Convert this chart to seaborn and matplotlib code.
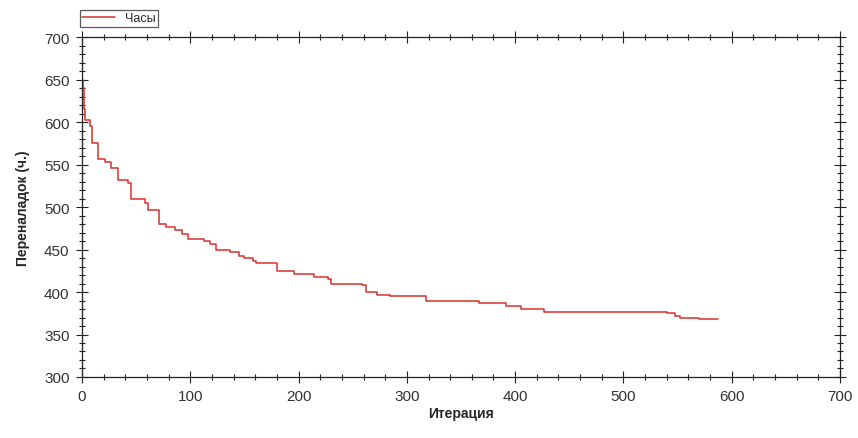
import pandas as pd
import matplotlib
matplotlib.use("Agg")
import matplotlib.pyplot as plt
from matplotlib.ticker import MultipleLocator
import seaborn as sns

# Step points: iteration where the value changes, new value
iterations = [0, 1, 2, 3, 7, 9, 15, 21, 27, 33, 42, 45, 58, 61, 71, 78, 86, 92,
              98, 113, 118, 124, 137, 145, 150, 158, 161, 180, 196, 214, 227, 230,
              259, 262, 272, 284, 318, 367, 392, 405, 427, 540, 548, 552, 570, 587]
hours = [650, 640, 615, 603, 595, 575, 557, 553, 546, 532, 528, 509, 505, 497,
         480, 477, 473, 468, 463, 460, 456, 449, 447, 442, 440, 437, 434, 425,
         421, 418, 415, 410, 408, 400, 397, 395, 390, 387, 383, 380, 377, 375,
         372, 369, 368, 368]

series_label = "Часы"
x_label = "Итерация"
y_label = "Переналадок (ч.)"

df = pd.DataFrame({"iter": iterations, "hours": hours})

sns.set_theme(style="ticks")
plt.rcParams["font.family"] = ["Liberation Sans", "DejaVu Sans"]

fig = plt.figure(figsize=(8.58, 4.39), dpi=100)
ax = fig.add_axes([0.0956, 0.139, 0.8834, 0.774])

sns.lineplot(data=df, x="iter", y="hours", ax=ax, color="#d8302c", linewidth=1.1,
             drawstyle="steps-post", estimator=None, label=series_label)

ax.set_xlim(0, 700)
ax.set_ylim(300, 700)
ax.xaxis.set_major_locator(MultipleLocator(100))
ax.xaxis.set_minor_locator(MultipleLocator(20))
ax.yaxis.set_major_locator(MultipleLocator(50))
ax.yaxis.set_minor_locator(MultipleLocator(10))

ax.tick_params(which="both", direction="inout", top=True, right=True,
               labeltop=False, labelright=False, color="#222222", width=0.8)
ax.tick_params(which="major", length=8, labelsize=11, labelcolor="#333333", pad=5)
ax.tick_params(which="minor", length=4)
for s in ax.spines.values():
    s.set_color("#222222")
    s.set_linewidth(0.9)

ax.set_xlabel(x_label, fontsize=10, fontweight="bold", labelpad=2)
ax.set_ylabel(y_label, fontsize=10, fontweight="bold", labelpad=10)

leg = ax.legend(loc="lower left", bbox_to_anchor=(-0.003, 1.03), frameon=True,
                fancybox=False, fontsize=9, handlelength=2.6, borderpad=0.2,
                borderaxespad=0, handletextpad=0.8)
leg.get_frame().set_edgecolor("#333333")
leg.get_frame().set_linewidth(0.9)

fig.savefig("out.png", dpi=100)
